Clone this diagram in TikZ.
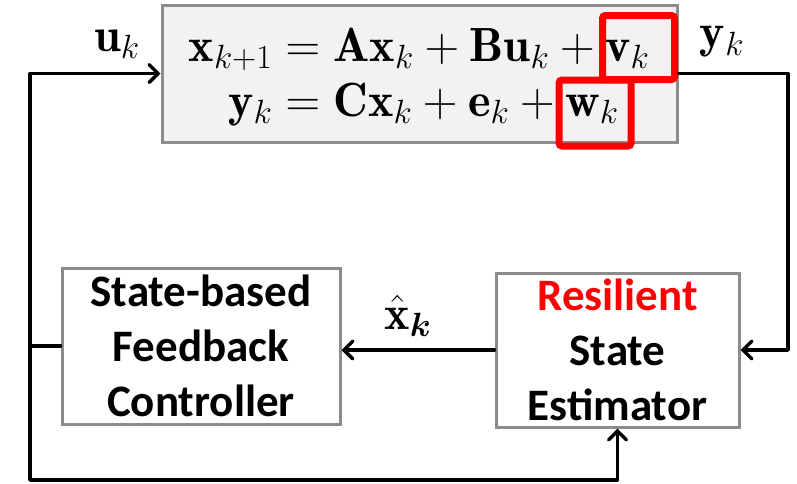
\documentclass[tikz,border=0pt]{standalone}
\usepackage{fix-cm}
\usepackage{amsmath,bm}
\usepackage{fontspec}
\setsansfont{Carlito}
\usetikzlibrary{arrows.meta}
\definecolor{boxgray}{HTML}{8C8C8C}
\definecolor{plantfill}{HTML}{F2F2F2}
\tikzset{
  block/.style={draw=boxgray, line width=3pt, inner sep=0pt, align=center,
    font=\sffamily\bfseries\fontsize{45}{55}\selectfont},
  hilite/.style={draw=red, line width=7pt, rounded corners=3pt, inner sep=0pt},
  conn/.style={line width=3.5pt, line cap=round, line join=round,
    -{Straight Barb[length=9pt,width=18pt,line cap=round]}},
  wire/.style={line width=3.5pt, line cap=round, line join=round},
  sig/.style={inner sep=0pt, font=\fontsize{48}{58}\selectfont},
}
\begin{document}
\begin{tikzpicture}[x=1pt,y=-1pt]
\useasboundingbox (0,0) rectangle (797,483);
% plant model
\node[block, fill=plantfill, minimum width=515pt, minimum height=137pt] (plant) at (419.5,73.5) {};
% highlighted noise terms
\node[hilite, minimum width=72pt, minimum height=64pt] (vbox) at (638.5,47.5) {};
\node[hilite, minimum width=72pt, minimum height=66pt] (wbox) at (595,113) {};
\node[sig] (eqs) at (419,77)
  {$\begin{aligned}\mathbf{x}_{k+1} &= \mathbf{A}\mathbf{x}_k+\mathbf{B}\mathbf{u}_k+\mathbf{v}_k\\[-6pt]
   \mathbf{y}_k &= \mathbf{C}\mathbf{x}_k+\mathbf{e}_k+\mathbf{w}_k\end{aligned}$};
% controller and estimator
\node[block, minimum width=278pt, minimum height=156pt] (ctrl) at (201,346)
  {State-based\\Feedback\\Controller};
\node[block, minimum width=243pt, minimum height=154pt] (est) at (617.5,350)
  {\textcolor{red}{Resilient}\\State\\Estimator};
% junction points of the feedback wiring
\coordinate (jn) at (30,346);
\coordinate (bl) at (30,480);
\coordinate (yr) at (788,73.5);
% connectors
\draw[wire] (ctrl.west) -- (jn);
\draw[conn] (jn) |- (plant.west);
\draw[conn] (jn) -- (bl) -| (est.south);
\draw[conn] (plant.east) -- (yr) |- (est.east);
\draw[conn] (est.west) -- (est.west -| ctrl.east);
% signal labels
\node[sig] (ulab) at (117,44) {$\mathbf{u}_k$};
\node[sig] (ylab) at (722,42) {$\mathbf{y}_k$};
\node[sig] (xlab) at (408,316) {$\hat{\mathbf{x}}_{\bm{k}}$};
\end{tikzpicture}
\end{document}
